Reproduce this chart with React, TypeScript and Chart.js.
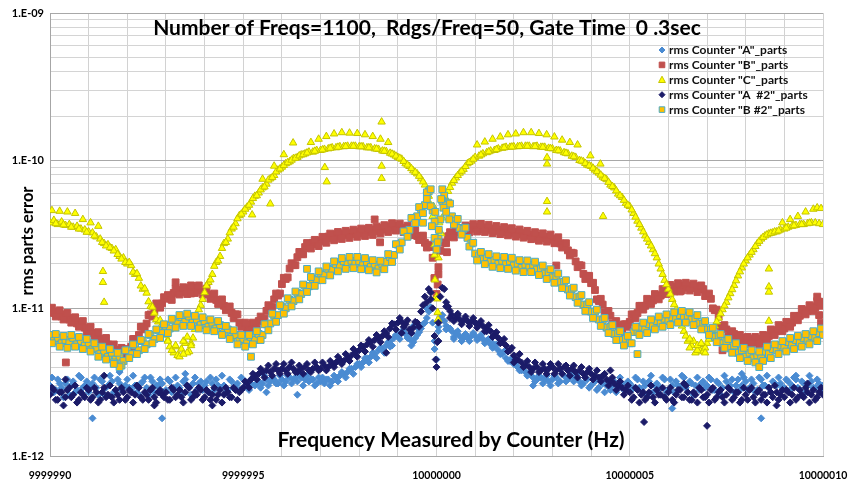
import React, { useEffect, useRef } from 'react';
import { Chart, registerables } from 'chart.js';

Chart.register(...registerables);

// ---------- data (values in units of 1E-12, i.e. parts-per-trillion) ----------
const CENTER_HZ = 10000000;
const GRID_FIRST_OFFSET_HZ = -10;      // main readings: -10.00 .. +10.00 Hz
const HALF_FIRST_OFFSET_HZ = -9.95;    // in-between readings: -9.95 .. +9.95 Hz
const GRID_STEP_HZ = 0.1;

const TITLE_TEXT = 'Number of Freqs=1100,  Rdgs/Freq=50, Gate Time  0 .3sec';
const X_TITLE_TEXT = 'Frequency Measured by Counter (Hz)';
const Y_TITLE_TEXT = 'rms parts error';

const xGridTicks = [
  9999990, 9999991, 9999992, 9999993, 9999994, 9999995, 9999996, 9999997, 9999998, 9999999,
  10000000, 10000001, 10000002, 10000003, 10000004, 10000005, 10000006, 10000007, 10000008, 10000009, 10000010,
];
const xLabeledTicks = [9999990, 9999995, 10000000, 10000005, 10000010];

const yGridTicks = [
  1, 2, 3, 4, 5, 6, 7, 8, 9,
  10, 20, 30, 40, 50, 60, 70, 80, 90,
  100, 200, 300, 400, 500, 600, 700, 800, 900,
  1000,
];
const yLabelValues = [1, 10, 100, 1000];
const yLabelTexts = ['1.E-12', '1.E-11', '1.E-10', '1.E-09'];

const seriesLabels = [
  'rms Counter "A"_parts',
  'rms Counter "B"_parts',
  'rms Counter "C"_parts',
  'rms Counter "A  #2"_parts',
  'rms Counter "B #2"_parts',
];

// ===== Counter A (light blue diamonds) =====
const counterA = [
  3.0, 2.7, 3.3, 2.9, 3.1, 2.6, 3.2, 2.8, 3.4, 3.0,
  2.7, 3.1, 2.9, 3.3, 2.6, 3.0, 3.2, 2.8, 3.1, 2.9,
  3.3, 2.8, 3.0, 2.6, 3.2, 2.9, 3.4, 2.7, 3.0, 3.1,
  2.8, 3.2, 2.9, 3.0, 2.6, 3.3, 2.9, 3.1, 2.8, 3.2,
  3.0, 2.7, 3.1, 3.3, 2.9, 3.0, 2.8, 3.2, 3.0, 2.8,
  2.9, 3.0, 3.1, 3.0, 3.2, 3.1, 3.3, 3.2, 3.3, 3.1,
  3.3, 3.2, 3.4, 3.3, 3.2, 3.4, 3.3, 3.2, 3.3, 3.1,
  3.2, 3.1, 3.3, 3.2, 3.4, 3.5, 3.6, 3.7, 3.9, 4.0,
  4.2, 4.3, 4.6, 4.7, 4.9, 5.2, 5.3, 5.6, 6.0, 6.3,
  6.6, 6.9, 6.7, 6.2, 5.9, 6.6, 7.3, 8.0, 9.5, 8.0,
  4.5, 8.6, 8.2, 7.4, 7.0, 6.8, 6.5, 6.3, 6.3, 6.5,
  6.5, 6.3, 6.2, 6.0, 5.7, 5.5, 5.2, 4.9, 4.6, 4.4,
  4.2, 4.0, 3.8, 3.7, 3.6, 3.4, 3.3, 3.4, 3.3, 3.2,
  3.3, 3.4, 3.2, 3.5, 3.3, 3.5, 3.4, 3.2, 3.1, 3.3,
  3.0, 3.2, 2.9, 3.1, 3.0, 2.8, 3.2, 2.9, 3.1, 2.8,
  3.1, 2.9, 3.3, 2.8, 3.0, 3.2, 2.7, 3.1, 2.9, 3.3,
  2.8, 3.0, 3.2, 2.9, 3.4, 2.7, 3.1, 3.0, 2.8, 3.2,
  3.0, 3.3, 2.8, 3.1, 2.9, 3.2, 3.0, 2.7, 3.3, 3.0,
  3.2, 2.9, 3.1, 2.8, 3.3, 3.0, 2.9, 3.2, 3.0, 3.1,
  2.9, 3.2, 3.0, 3.3, 2.8, 3.1, 3.0, 3.2, 2.9, 3.1,
  3.0,
];
const counterAHalf = [
  3.4, 2.8, 3.1, 2.5, 3.3, 3.0, 2.7, 3.5, 2.9, 3.2,
  3.0, 3.4, 2.6, 3.2, 2.9, 3.5, 2.7, 3.3, 2.8, 3.0,
  2.9, 3.5, 2.7, 3.1, 3.4, 2.6, 3.2, 3.0, 3.3, 2.7,
  3.3, 2.7, 3.4, 2.9, 3.2, 3.0, 2.6, 3.4, 3.1, 2.8,
  3.2, 3.4, 2.8, 3.0, 3.5, 2.7, 3.3, 2.9, 3.1, 3.4,
  3.2, 2.8, 3.4, 3.1, 2.9, 3.5, 3.0, 3.4, 3.1, 3.5,
  3.0, 3.5, 3.1, 3.4, 3.6, 3.0, 3.5, 3.3, 3.0, 3.4,
  3.4, 3.3, 3.0, 3.5, 3.2, 3.7, 3.4, 3.9, 3.6, 4.2,
  4.0, 4.6, 4.3, 5.0, 4.6, 5.4, 5.0, 5.9, 5.6, 6.6,
  6.2, 7.2, 6.3, 5.6, 6.3, 6.9, 7.8, 8.6, 10.2, 6.0,
  7.5, 9.0, 7.6, 7.3, 6.4, 7.0, 6.0, 6.7, 6.0, 6.8,
  6.1, 6.6, 5.8, 6.2, 5.4, 5.7, 4.9, 5.1, 4.4, 4.6,
  4.3, 3.8, 4.0, 3.5, 3.8, 3.2, 3.5, 3.1, 3.5, 3.0,
  3.5, 3.1, 3.6, 3.2, 3.7, 3.2, 3.6, 3.0, 3.4, 2.9,
  3.3, 2.8, 3.4, 2.7, 3.2, 3.0, 2.7, 3.4, 2.8, 3.2,
  2.8, 3.4, 2.9, 3.2, 2.6, 3.5, 3.0, 2.8, 3.4, 2.7,
  3.3, 2.7, 3.0, 3.5, 2.9, 3.2, 2.6, 3.4, 3.1, 2.9,
  3.4, 2.8, 3.2, 2.6, 3.5, 2.9, 3.3, 3.0, 2.8, 3.4,
  2.8, 3.3, 2.7, 3.4, 3.0, 3.5, 2.7, 3.1, 3.4, 2.9,
  3.3, 2.8, 3.4, 2.9, 3.2, 2.7, 3.5, 2.9, 3.3, 2.8,
];
const counterAExtraOffsets = [-8.9, -7.1, 8.4, 6.1, -4.4, -3.6, -8.2, -6.5, 7.9, 9.3, -0.25, -0.05, 0.05, 0.25, 0.45, -0.45, -0.6, 0.65, 1.45, 2.5, -1.2];
const counterAExtraValues = [1.8, 1.8, 1.8, 2.1, 2.7, 2.6, 3.7, 3.6, 3.6, 3.5, 10.0, 5.3, 7.0, 7.2, 6.2, 7.2, 7.6, 6.0, 5.8, 3.0, 5.5];

// ===== Counter B (red squares) =====
const counterB = [
  9.8, 9.3, 9.5, 8.8, 9.1, 8.4, 8.6, 7.9, 8.0, 7.4,
  7.3, 6.8, 6.8, 6.2, 6.1, 5.7, 5.6, 5.2, 5.2, 4.9,
  5.3, 5.5, 6.2, 6.6, 7.5, 7.9, 9.1, 9.6, 10.7, 10.8,
  11.7, 11.6, 12.7, 13.0, 13.3, 12.9, 13.7, 13.3, 13.8, 13.2,
  13.2, 12.4, 12.3, 11.4, 11.3, 10.4, 10.2, 9.3, 9.1, 8.0,
  7.9, 7.2, 7.7, 7.4, 8.2, 8.4, 9.6, 10.2, 11.5, 12.2,
  14.6, 15.8, 18.6, 19.6, 22.2, 23.3, 26.0, 26.3, 27.8, 27.2,
  28.9, 28.6, 30.6, 30.0, 31.5, 30.6, 32.1, 31.2, 32.6, 31.7,
  33.2, 32.2, 33.6, 32.7, 34.2, 33.4, 35.0, 34.1, 35.9, 35.2,
  36.2, 34.6, 35.2, 33.2, 33.4, 30.9, 30.8, 27.8, 27.0, 22.0,
  12.5, 24.5, 28.0, 30.8, 31.0, 33.2, 32.8, 34.6, 34.0, 35.6,
  34.6, 35.8, 34.5, 35.4, 34.0, 34.8, 33.4, 34.2, 32.8, 33.6,
  32.2, 33.0, 31.6, 32.4, 30.9, 31.6, 30.2, 30.9, 29.8, 30.5,
  29.1, 29.6, 27.5, 27.4, 24.7, 23.8, 20.8, 19.6, 17.1, 16.6,
  14.8, 13.3, 11.2, 10.6, 9.3, 8.9, 7.8, 7.6, 6.9, 7.8,
  8.1, 9.1, 9.3, 10.4, 10.4, 11.4, 11.3, 12.2, 12.2, 13.3,
  13.2, 14.0, 13.7, 14.3, 13.8, 14.3, 13.7, 14.1, 13.4, 13.5,
  12.2, 11.6, 9.7, 8.8, 7.4, 7.2, 6.5, 6.7, 6.1, 6.3,
  5.9, 6.2, 5.9, 6.2, 6.0, 6.4, 6.5, 7.1, 7.0, 7.6,
  7.3, 8.0, 8.0, 8.8, 8.9, 9.7, 9.6, 10.3, 10.1, 11.1,
  11.0,
];
const counterBHalf = [
  10.1, 8.8, 9.7, 8.4, 9.3, 8.0, 8.7, 7.5, 8.2, 6.9,
  7.5, 6.4, 6.9, 5.8, 6.3, 5.3, 5.7, 4.9, 5.4, 4.8,
  5.0, 6.2, 6.0, 7.5, 7.2, 9.0, 8.8, 10.8, 10.1, 11.9,
  12.3, 11.4, 13.6, 12.4, 13.9, 12.5, 14.3, 12.7, 14.3, 12.4,
  13.6, 11.6, 12.6, 10.7, 11.5, 9.7, 10.3, 8.6, 9.1, 7.5,
  8.0, 7.0, 8.0, 7.3, 8.8, 8.5, 10.5, 10.2, 12.6, 12.6,
  16.1, 16.2, 20.2, 19.6, 24.1, 23.2, 27.7, 25.4, 29.1, 26.4,
  30.5, 27.8, 32.1, 28.9, 32.9, 29.5, 33.5, 30.0, 34.1, 30.5,
  34.7, 30.9, 35.1, 31.4, 35.8, 32.1, 36.6, 32.9, 37.7, 33.6,
  37.5, 32.8, 36.3, 31.3, 34.1, 29.0, 31.1, 25.8, 26.0, 16.0,
  17.0, 27.8, 27.6, 32.8, 30.2, 35.0, 31.7, 36.4, 32.7, 37.2,
  33.1, 37.3, 32.9, 36.8, 32.3, 36.1, 31.8, 35.5, 31.2, 34.9,
  30.6, 34.2, 30.1, 33.5, 29.4, 32.8, 28.7, 32.2, 28.3, 31.6,
  27.6, 30.3, 25.8, 27.6, 22.8, 23.6, 19.0, 19.5, 15.8, 16.6,
  14.9, 11.5, 11.6, 9.4, 9.6, 7.9, 8.2, 6.8, 7.8, 7.5,
  9.1, 8.6, 10.4, 9.8, 11.6, 10.7, 12.5, 11.5, 13.5, 12.5,
  14.4, 13.0, 14.8, 13.2, 14.9, 13.2, 14.7, 12.9, 14.3, 12.1,
  12.6, 10.0, 9.8, 7.6, 7.7, 6.4, 7.0, 6.0, 6.6, 5.7,
  6.4, 5.7, 6.4, 5.7, 6.6, 6.1, 7.2, 6.6, 7.7, 7.0,
  8.1, 7.5, 8.9, 8.3, 9.9, 9.1, 10.5, 9.6, 11.2, 10.4,
];
const counterBExtraOffsets = [-9.59, 9.85, 9.95, 9.9, -1.6, -1.46, 3.1, 0.27, 7.4, -0.05, 0.03, 0.05, -6.75, -6.35, 6.3];
const counterBExtraValues = [4.3, 12.0, 8.0, 9.0, 40.0, 28.0, 19.5, 24.0, 5.2, 16.0, 14.5, 19.0, 15.0, 12.6, 13.0];

// ===== Counter C (yellow triangles) =====
const counterC = [
  38, 39.5, 37, 38.5, 36.5, 37, 35.5, 36, 34.5, 34,
  33, 32.5, 30.5, 29.5, 27.5, 27, 25.5, 25, 22.5, 22,
  20, 19.5, 17, 16, 13.5, 12.7, 10.3, 9.3, 8.1, 7.8,
  6.6, 5.5, 5.0, 4.8, 5.3, 5.8, 5.1, 6.3, 8.5, 10.5,
  12.8, 15, 17, 20.5, 22.5, 27.5, 29.5, 34.5, 37.5, 42.5,
  45, 48.5, 52.5, 57.5, 60.5, 65.5, 69.5, 75.5, 79.5, 86.5,
  90.5, 95.5, 98.5, 103.5, 105.5, 109.5, 111.5, 114.5, 114.5, 117.5,
  117.5, 119.5, 120.5, 122.5, 122.5, 124.5, 124.5, 125.5, 125.5, 125.5,
  124.5, 124.5, 122.5, 122.5, 120.5, 119.5, 116.5, 115.5, 112.5, 109.5,
  105.5, 102.5, 95.5, 91.5, 85.5, 81.5, 75.5, 68.5, 57.5, 42,
  12, 33, 48, 62, 70.5, 76.5, 82.5, 87.5, 95.5, 99.5,
  105.5, 107.5, 111.5, 113.5, 116.5, 117.5, 120.5, 121.5, 123.5, 123.5,
  124.5, 124.5, 125.5, 125.5, 125.5, 124.5, 125.5, 123.5, 123.5, 121.5,
  120.5, 117.5, 116.5, 113.5, 111.5, 107.5, 105.5, 100.5, 98.5, 93.5,
  91.5, 86.5, 82.5, 77.5, 74.5, 68.5, 65.5, 59.5, 56.5, 51.5,
  49, 44, 39, 35, 31, 28, 25, 22, 18.5, 15.5,
  13.5, 11.5, 9.8, 8.2, 7.0, 6.0, 5.6, 5.0, 5.3, 5.1,
  5.8, 6.6, 7.6, 8.6, 9.8, 11, 12.6, 14.3, 16.6, 18.8,
  21, 23, 25, 27.5, 29.5, 31, 32, 32.5, 33, 34,
  34.5, 35.5, 36, 36.5, 37, 37, 37.5, 38, 38, 37.5,
  37,
];
const counterCHalf = [
  46, 37.5, 45.5, 36.8, 45, 35.5, 44, 34.5, 40, 32.8,
  38, 31, 36, 28, 26.5, 25.8, 24.5, 23.2, 21.6, 20.5,
  20.5, 17.6, 17.2, 14.2, 13.6, 11.1, 10.2, 8.4, 8.3, 6.9,
  6.1, 5.2, 5.5, 4.7, 6.0, 5.0, 5.8, 7.2, 9.8, 11.5,
  14.2, 15.6, 19.3, 21.0, 25.5, 28.0, 32.5, 35.5, 40.5, 43.5,
  47, 50, 55.5, 58, 63.5, 66.5, 74, 77, 84, 88,
  93, 97, 101, 104, 108, 110, 113, 133, 116, 140,
  118.5, 146, 121.5, 152, 123.5, 155, 125, 154, 125.5, 153,
  124.5, 150, 122.5, 146, 120, 140, 116, 133, 111, 107.5,
  104, 99, 93.5, 88.5, 83.5, 78.5, 72, 63, 50, 27,
  22, 41, 55, 66, 73.5, 79.5, 85, 91.5, 97.5, 102.5,
  128, 109.5, 134, 115, 140, 119, 145, 122.5, 150, 124,
  152, 125, 155, 125.5, 155, 125, 153, 123.5, 150, 121,
  145, 117, 138, 112.5, 133, 106.5, 128, 99.5, 96, 92.5,
  89, 84.5, 80, 76, 71.5, 67, 62.5, 58, 54, 50,
  46.5, 41.5, 37, 33, 29.5, 26.5, 23.5, 20, 17, 14.5,
  12.5, 10.6, 9.0, 7.6, 6.5, 5.4, 6.0, 5.2, 5.7, 5.4,
  6.2, 7.1, 8.1, 9.2, 10.4, 11.8, 13.4, 15.4, 17.7, 20,
  22, 24, 26.3, 28.5, 30.3, 31.5, 32.3, 33, 33.5, 38,
  35, 40, 36.3, 42, 37, 45, 37.8, 47, 48, 47.5,
];
const counterCExtraOffsets = [
  -8.63, -8.63, -8.6,
  -6.95, -6.75, -6.55, -6.45, -6.35,
  -4.5, -4.2, -3.95, -3.71,
  -1.42, -2.89, -2.84, -1.42, -1.42, -4.3, -4.77,
  -0.08, -0.05, -0.04, 0.02, 0.03, 0.04, 0.07, 0.12,
  3.98, 4.24,
  2.86, 2.86, 2.86, 2.86, 4.31,
  6.55, 6.75, 6.85, 6.95, 7.05,
  8.6, 8.6, 8.6, 8.6,
];
const counterCExtraValues = [
  17.8, 15, 11,
  6.0, 5.6, 4.9, 6.4, 5.6,
  75, 92, 110, 132,
  183, 90, 72, 92, 76, 51, 43,
  49, 23, 15.6, 11.6, 9.4, 8.4, 38, 32,
  108, 95,
  105, 95, 53, 45, 42,
  6.2, 5.6, 5.8, 5.0, 6.2,
  18.5, 14, 12.9, 8.2,
];

// ===== Counter A #2 (navy diamonds) =====
const counterA2 = [
  2.6, 2.8, 2.4, 2.7, 2.5, 2.9, 2.6, 2.3, 2.7, 2.5,
  2.8, 2.5, 2.7, 2.4, 2.9, 2.6, 2.5, 2.8, 2.4, 2.7,
  2.5, 2.7, 2.6, 2.9, 2.4, 2.6, 2.8, 2.5, 2.7, 2.6,
  2.7, 2.4, 2.8, 2.6, 2.5, 2.7, 2.9, 2.5, 2.6, 2.8,
  2.5, 2.7, 2.6, 2.4, 2.8, 2.6, 2.7, 2.5, 2.8, 2.7,
  2.9, 3.1, 3.3, 3.5, 3.6, 3.7, 3.8, 3.7, 3.9, 3.8,
  3.9, 3.8, 4.0, 3.9, 3.7, 3.9, 4.0, 3.8, 3.9, 4.0,
  3.9, 4.1, 4.0, 4.2, 4.3, 4.5, 4.4, 4.6, 4.8, 5.0,
  5.2, 5.5, 5.7, 5.9, 6.1, 6.3, 6.5, 6.8, 7.3, 7.8,
  8.0, 8.1, 7.8, 7.2, 7.4, 8.0, 9.5, 12.0, 13.5, 10.0,
  4.0, 12.0, 13.5, 10.3, 9.0, 8.6, 8.4, 8.3, 8.2, 8.1,
  8.0, 7.8, 7.6, 7.3, 7.0, 6.6, 6.3, 5.9, 5.6, 5.2,
  4.8, 4.5, 4.3, 4.1, 4.0, 3.9, 4.0, 3.8, 3.9, 3.9,
  4.0, 3.8, 3.9, 4.0, 3.8, 3.9, 3.7, 3.8, 3.6, 3.7,
  3.6, 3.5, 3.4, 3.5, 3.3, 3.2, 3.1, 3.0, 2.9, 2.8,
  2.7, 2.5, 2.8, 2.6, 2.4, 2.7, 2.5, 2.8, 2.6, 2.5,
  2.7, 2.4, 2.6, 2.8, 2.5, 2.7, 2.4, 2.6, 2.9, 2.5,
  2.6, 2.8, 2.4, 2.7, 2.5, 2.6, 2.8, 2.5, 2.7, 2.4,
  2.6, 2.8, 2.5, 2.7, 2.4, 2.6, 2.9, 2.5, 2.7, 2.6,
  2.5, 2.7, 2.6, 2.4, 2.8, 2.5, 2.7, 2.6, 2.4, 2.7,
  2.6,
];
const counterA2Half = [
  2.9, 2.4, 2.7, 2.2, 2.8, 2.5, 3.0, 2.4, 2.6, 2.9,
  2.4, 2.9, 2.3, 2.7, 2.5, 3.0, 2.3, 2.6, 2.9, 2.4,
  2.8, 2.3, 3.0, 2.5, 2.7, 2.4, 2.9, 2.3, 2.8, 2.5,
  2.4, 2.9, 2.5, 2.8, 2.3, 3.0, 2.4, 2.7, 2.9, 2.4,
  2.8, 2.4, 2.9, 2.6, 2.3, 2.9, 2.5, 2.9, 2.4, 2.8,
  3.2, 2.9, 3.6, 3.3, 3.9, 3.4, 4.1, 3.5, 4.2, 3.6,
  4.2, 3.6, 4.3, 3.7, 4.1, 3.6, 4.2, 3.7, 4.3, 3.8,
  4.3, 3.8, 4.4, 4.0, 4.7, 4.2, 4.9, 4.4, 5.3, 4.7,
  5.6, 5.1, 6.1, 5.5, 6.6, 5.9, 7.0, 6.4, 7.9, 7.2,
  8.6, 7.5, 8.3, 6.8, 8.1, 7.5, 10.5, 11.0, 12.8, 6.5,
  8.0, 13.8, 11.0, 9.6, 8.2, 9.2, 7.8, 8.8, 7.6, 8.6,
  7.4, 8.2, 7.0, 7.7, 6.4, 6.9, 5.8, 6.2, 5.1, 5.4,
  4.5, 4.9, 4.0, 4.4, 3.7, 4.3, 3.7, 4.2, 3.6, 4.2,
  3.6, 4.2, 3.6, 4.1, 3.5, 4.1, 3.4, 4.0, 3.4, 3.9,
  3.3, 3.8, 3.2, 3.6, 3.0, 3.4, 2.8, 3.2, 2.6, 3.0,
  2.4, 2.9, 2.3, 2.7, 2.5, 3.0, 2.3, 2.6, 2.9, 2.4,
  2.9, 2.3, 2.8, 2.5, 3.0, 2.4, 2.7, 2.3, 2.8, 2.5,
  2.3, 2.9, 2.5, 2.8, 2.3, 2.9, 2.4, 2.7, 2.3, 2.9,
  2.4, 2.9, 2.3, 2.8, 2.6, 2.3, 2.7, 3.0, 2.4, 2.8,
  2.8, 2.3, 2.9, 2.5, 2.6, 2.9, 2.3, 2.8, 2.5, 2.9,
];
const counterA2ExtraOffsets = [7.0, 5.37, -9.6, -8.6, -7.3, -5.8, -1.3, -0.9, -0.15, 0.05, 0.25, 0.35, 0.55, 1.3, 2.0, 4.5, 6.4, 8.8, 9.6, -0.02, 0.02];
const counterA2ExtraValues = [1.6, 1.7, 3.3, 3.5, 2.2, 2.2, 5.0, 6.8, 11.5, 6.0, 10.3, 8.6, 9.0, 7.0, 4.3, 3.8, 3.1, 2.2, 3.1, 4.5, 5.9];

// ===== Counter B #2 (orange squares) =====
const counterB2 = [
  6.6, 6.0, 6.3, 5.8, 6.1, 5.8, 6.3, 5.7, 6.0, 5.6,
  5.8, 5.3, 5.4, 4.9, 5.1, 4.7, 5.0, 4.5, 4.7, 4.4,
  5.2, 4.9, 5.6, 5.2, 6.0, 5.7, 6.6, 6.2, 7.1, 6.8,
  7.6, 7.3, 8.3, 7.9, 8.7, 8.1, 8.8, 8.0, 8.4, 7.7,
  8.2, 7.5, 8.0, 7.3, 7.7, 6.8, 7.2, 6.4, 6.6, 6.0,
  6.2, 5.8, 6.4, 6.1, 6.7, 6.6, 7.8, 7.9, 8.9, 9.0,
  10.3, 10.0, 11.4, 11.2, 12.7, 12.5, 14.2, 14.1, 15.8, 15.5,
  17.2, 16.8, 18.5, 18.2, 19.9, 19.3, 20.8, 19.9, 21.0, 20.0,
  20.9, 19.6, 20.6, 19.1, 19.8, 18.6, 19.9, 20.6, 22.2, 23.0,
  27, 28, 33, 34, 41, 42, 47, 50, 62, 46,
  25, 40, 58, 52, 42, 39, 35, 34.5, 30, 27.5,
  23.5, 22.8, 21.5, 22.2, 20.6, 21.3, 20.0, 21.0, 19.9, 20.8,
  19.5, 20.1, 18.8, 19.8, 18.9, 19.7, 18.3, 18.6, 17.2, 17.6,
  16.2, 16.5, 15.0, 15.1, 13.4, 13.5, 11.9, 12.0, 10.6, 10.6,
  9.5, 9.5, 8.4, 8.3, 7.4, 7.5, 6.7, 6.8, 6.1, 6.2,
  5.8, 6.9, 6.9, 7.5, 7.2, 7.8, 7.6, 8.2, 7.9, 8.5,
  8.2, 8.7, 8.5, 9.0, 8.6, 8.9, 8.4, 8.6, 7.9, 7.9,
  7.2, 7.2, 6.4, 6.5, 5.8, 6.0, 5.4, 5.6, 5.0, 5.2,
  4.7, 5.0, 4.6, 4.8, 4.6, 5.1, 4.9, 5.3, 5.2, 5.6,
  5.4, 5.9, 5.6, 6.1, 5.8, 6.3, 6.0, 6.5, 6.3, 6.8,
  6.6,
];
const counterB2Half = [
  5.8, 6.7, 5.5, 6.5, 5.4, 6.6, 5.5, 6.4, 5.3, 6.2,
  5.1, 5.8, 4.7, 5.5, 4.5, 5.3, 4.3, 5.0, 4.1, 5.2,
  4.6, 5.7, 4.9, 6.1, 5.3, 6.7, 5.8, 7.2, 6.3, 7.8,
  6.8, 8.5, 7.4, 9.0, 7.6, 9.2, 7.6, 8.9, 7.3, 8.7,
  7.1, 8.4, 7.0, 8.2, 6.6, 7.6, 6.2, 7.1, 5.7, 6.6,
  5.5, 6.6, 5.7, 7.0, 6.1, 7.8, 7.1, 9.2, 8.1, 10.5,
  9.2, 11.7, 10.3, 13.0, 11.5, 14.5, 12.9, 16.3, 14.2, 17.8,
  15.5, 19.2, 16.7, 20.8, 17.8, 21.9, 18.5, 22.3, 18.7, 22.3,
  18.4, 21.9, 18.1, 21.2, 17.5, 21.0, 18.4, 23.3, 20.6, 27.2,
  25.0, 33.2, 30.5, 40.9, 37.8, 48.5, 44.1, 61.0, 49.1, 38.7,
  29.6, 53.4, 50.0, 51.2, 36.9, 40.3, 31.6, 35.2, 26.2, 27.8,
  21.1, 24.1, 19.9, 23.3, 19.1, 22.5, 18.7, 22.3, 18.5, 22.0,
  18.0, 21.2, 17.6, 21.1, 17.6, 20.7, 16.8, 19.5, 15.8, 18.4,
  14.9, 17.2, 13.7, 15.5, 12.2, 13.8, 10.9, 12.3, 9.6, 11.0,
  8.6, 9.8, 7.6, 8.6, 6.8, 7.7, 6.1, 7.0, 5.6, 6.5,
  5.8, 7.5, 6.6, 8.0, 6.8, 8.4, 7.2, 8.8, 7.5, 9.1,
  7.7, 9.4, 8.0, 9.6, 8.0, 9.4, 7.7, 9.0, 7.2, 8.2,
  6.6, 7.4, 5.9, 6.7, 5.4, 6.2, 5.0, 5.8, 4.6, 5.4,
  4.4, 5.2, 4.3, 5.1, 4.4, 5.5, 4.6, 5.7, 4.9, 6.0,
  5.1, 6.3, 5.3, 6.5, 5.5, 6.7, 5.7, 7.0, 6.0, 7.3,
];
const counterB2ExtraOffsets = [
  -0.35, -0.25, -0.15, -0.12, -0.05, -0.03, 0.03, 0.06, 0.12, 0.15, 0.18, 0.25, 0.33,
  -8.2, -8.35, 8.35, 5.2, -4.8, -3.35,
];
const counterB2ExtraValues = [
  38, 55, 64, 36, 30, 45, 28, 34, 55, 64, 48, 45, 40,
  4.0, 4.2, 4.0, 4.9, 4.7, 18.5,
];

// ---------- helpers ----------
const FONT = 'Lato, "Open Sans", "DejaVu Sans", sans-serif';

function gridPoints(values: number[], firstOffset: number) {
  return values.map((v, i) => ({ x: CENTER_HZ + firstOffset + i * GRID_STEP_HZ, y: v }));
}
function extraPoints(offsets: number[], values: number[]) {
  return offsets.map((o, i) => ({ x: CENTER_HZ + o, y: values[i] }));
}
function isDecade(v: number) {
  const l = Math.log10(v);
  return Math.abs(l - Math.round(l)) < 1e-9;
}

type SeriesStyle = {
  pointStyle: 'rectRot' | 'rect' | 'triangle';
  radius: number;
  bg: string;
  border: string;
  borderWidth: number;
};

const styles: SeriesStyle[] = [
  { pointStyle: 'rectRot', radius: 3.5, bg: '#4a8bd2', border: '#4a8bd2', borderWidth: 1 },
  { pointStyle: 'rect', radius: 4.8, bg: '#c0504d', border: '#c0504d', borderWidth: 1 },
  { pointStyle: 'triangle', radius: 4.3, bg: '#ffff00', border: '#c4c400', borderWidth: 1 },
  { pointStyle: 'rectRot', radius: 3.5, bg: '#1b1b68', border: '#1b1b68', borderWidth: 1 },
  { pointStyle: 'rect', radius: 4.8, bg: '#ffc000', border: '#4bacc6', borderWidth: 1 },
];

function drawMarker(ctx: CanvasRenderingContext2D, s: SeriesStyle, x: number, y: number, r: number) {
  ctx.beginPath();
  if (s.pointStyle === 'rectRot') {
    ctx.moveTo(x, y - r);
    ctx.lineTo(x + r, y);
    ctx.lineTo(x, y + r);
    ctx.lineTo(x - r, y);
    ctx.closePath();
  } else if (s.pointStyle === 'rect') {
    ctx.rect(x - r, y - r, 2 * r, 2 * r);
  } else {
    ctx.moveTo(x, y - r);
    ctx.lineTo(x + r * 0.95, y + r * 0.75);
    ctx.lineTo(x - r * 0.95, y + r * 0.75);
    ctx.closePath();
  }
  ctx.fillStyle = s.bg;
  ctx.fill();
  ctx.lineWidth = 1;
  ctx.strokeStyle = s.border;
  ctx.stroke();
}

const overlayPlugin = {
  id: 'overlayTexts',
  afterDraw(chart: any) {
    const ctx: CanvasRenderingContext2D = chart.ctx;
    const a = chart.chartArea;
    ctx.save();
    ctx.fillStyle = '#000';
    ctx.textAlign = 'center';
    ctx.textBaseline = 'middle';
    // chart title (inside plot area)
    ctx.font = `bold 21px ${FONT}`;
    ctx.fillText(TITLE_TEXT, a.left + 377, a.top + 15);
    // x axis title (inside plot area, bottom)
    ctx.font = `bold 21px ${FONT}`;
    ctx.fillText(X_TITLE_TEXT, a.left + 401, a.bottom - 16);
    // y axis title
    ctx.save();
    ctx.translate(28, 241);
    ctx.rotate(-Math.PI / 2);
    ctx.font = `bold 16.5px ${FONT}`;
    ctx.fillText(Y_TITLE_TEXT, 0, 0);
    ctx.restore();
    // legend
    ctx.font = `bold 12px ${FONT}`;
    ctx.textAlign = 'left';
    seriesLabels.forEach((label, i) => {
      const cy = a.top + 37 + i * 14.9;
      const st = styles[i];
      const r = st.pointStyle === 'triangle' ? 3.6 : st.pointStyle === 'rect' ? 2.8 : 3.0;
      drawMarker(ctx, st, a.right - 161, cy, r);
      ctx.fillStyle = '#111';
      ctx.fillText(label, a.right - 154, cy + 0.5);
    });
    ctx.restore();
  },
};

export default function App() {
  const canvasRef = useRef<HTMLCanvasElement | null>(null);

  useEffect(() => {
    const canvas = canvasRef.current;
    if (!canvas) return;
    const mains = [counterA, counterB, counterC, counterA2, counterB2];
    const halves = [counterAHalf, counterBHalf, counterCHalf, counterA2Half, counterB2Half];
    const extrasO = [counterAExtraOffsets, counterBExtraOffsets, counterCExtraOffsets, counterA2ExtraOffsets, counterB2ExtraOffsets];
    const extrasV = [counterAExtraValues, counterBExtraValues, counterCExtraValues, counterA2ExtraValues, counterB2ExtraValues];
    const drawOrder = [5, 4, 3, 2, 1];

    const datasets = seriesLabels.map((label, i) => ({
      label,
      data: [
        ...gridPoints(mains[i], GRID_FIRST_OFFSET_HZ),
        ...gridPoints(halves[i], HALF_FIRST_OFFSET_HZ),
        ...extraPoints(extrasO[i], extrasV[i]),
      ],
      pointStyle: styles[i].pointStyle,
      pointRadius: styles[i].radius,
      pointHoverRadius: styles[i].radius,
      backgroundColor: styles[i].bg,
      borderColor: styles[i].border,
      borderWidth: styles[i].borderWidth,
      showLine: false,
      order: drawOrder[i],
    }));

    const chart = new Chart(canvas, {
      type: 'scatter',
      data: { datasets } as any,
      plugins: [overlayPlugin],
      options: {
        responsive: false,
        animation: false,
        devicePixelRatio: 1,
        layout: { padding: { top: 13, right: 39, left: 0, bottom: 0 } },
        plugins: {
          legend: { display: false },
          tooltip: { enabled: false },
          title: { display: false },
        },
        scales: {
          x: {
            type: 'linear',
            min: 9999990,
            max: 10000010,
            afterBuildTicks: (axis: any) => {
              axis.ticks = xGridTicks.map((v) => ({ value: v }));
            },
            afterFit: (scale: any) => {
              scale.height = 29;
            },
            ticks: {
              autoSkip: false,
              maxRotation: 0,
              minRotation: 0,
              padding: 13,
              color: '#000',
              font: { family: FONT, size: 10.5, weight: 'bold' },
              callback: (value: any) => (xLabeledTicks.includes(Number(value)) ? String(value) : ''),
            },
            grid: { color: '#d2d2d2', lineWidth: 1, drawTicks: false },
            border: { display: true, color: '#a6a6a6' },
          },
          y: {
            type: 'logarithmic',
            min: 1,
            max: 1000,
            afterBuildTicks: (axis: any) => {
              axis.ticks = yGridTicks.map((v) => ({ value: v, major: isDecade(v) }));
            },
            afterFit: (scale: any) => {
              scale.width = 50;
            },
            ticks: {
              autoSkip: false,
              padding: 6,
              color: '#000',
              font: { family: FONT, size: 11, weight: 'bold' },
              callback: (value: any) => {
                const idx = yLabelValues.findIndex((v) => Math.abs(v - Number(value)) < 1e-9);
                return idx >= 0 ? yLabelTexts[idx] : '';
              },
            },
            grid: {
              drawTicks: false,
              lineWidth: 1,
              color: (c: any) => (c.tick && isDecade(c.tick.value) ? '#a8a8a8' : '#d4d4d4'),
            },
            border: { display: true, color: '#a6a6a6' },
          },
        },
      } as any,
    });
    return () => chart.destroy();
  }, []);

  return (
    <div style={{ position: 'fixed', left: 0, top: 0, width: 862, height: 485, background: '#fff' }}>
      <canvas ref={canvasRef} width={862} height={485} style={{ display: 'block', width: 862, height: 485 }} />
    </div>
  );
}
